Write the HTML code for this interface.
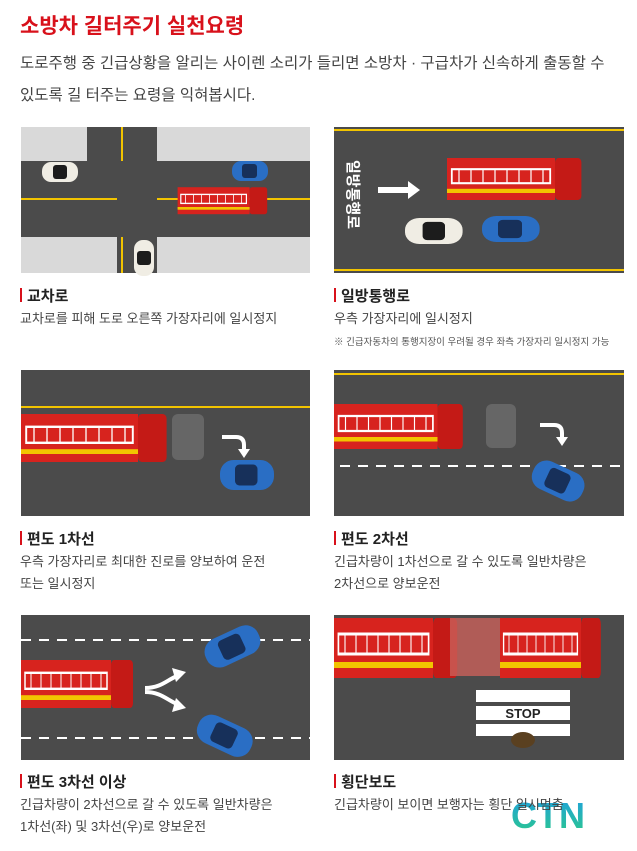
<!DOCTYPE html><html><head><meta charset="utf-8"><style>
body{margin:0;width:637px;height:851px;background:#fff;position:relative;overflow:hidden;font-family:"Liberation Sans","Noto Sans CJK KR",sans-serif;color:#333}
.a{position:absolute;white-space:nowrap}
.h{font-size:15px;font-weight:bold;color:#222}
.h:before{content:"";display:inline-block;width:2px;height:14px;background:#d8111b;margin-right:5px;vertical-align:-1px}
.d{font-size:13px;color:#444;line-height:22px}
svg{position:absolute}
</style></head><body>
<div class="a" style="left:20px;top:10px;font-size:21px;font-weight:bold;color:#d8111b">소방차 길터주기 실천요령</div>
<div class="a" style="left:20px;top:48px;font-size:15.5px;line-height:32px;color:#444">도로주행 중 긴급상황을 알리는 사이렌 소리가 들리면 소방차 · 구급차가 신속하게 출동할 수<br>있도록 길 터주는 요령을 익혀봅시다.</div>
<svg width="637" height="851" viewBox="0 0 637 851">
<defs>
<g id="truck"><rect x="0" y="0" width="90" height="30" fill="#d7231e"/><rect x="4" y="8" width="82" height="10" fill="none" stroke="#fff" stroke-width="1.5"/><path d="M10 8v10M20 8v10M30 8v10M40 8v10M50 8v10M60 8v10M70 8v10M80 8v10" stroke="#fff"/><rect x="90" y="0" width="22" height="30" rx="3" fill="#c41a16"/><rect x="0" y="22" width="90" height="3" fill="#f2c400"/></g>
<g id="bcar"><rect x="0" y="0" width="36" height="20" rx="9" fill="#2a6ec4"/><rect x="10" y="3" width="15" height="14" rx="3" fill="#17305a"/></g>
<g id="wcar"><rect x="0" y="0" width="36" height="20" rx="9" fill="#f0ede4"/><rect x="11" y="3" width="14" height="14" rx="3" fill="#1c1c1c"/></g>
<g id="carr"><path d="M0 0h14q8 0 8 8v6" stroke="#fff" stroke-width="4" fill="none"/><path d="M16 12h12l-6 9z" fill="#fff"/></g>
</defs>
<rect x="21" y="127" width="289" height="146" fill="#4b4b4b"/>
<rect x="21" y="127" width="66" height="34" fill="#d9d9d9"/><rect x="157" y="127" width="153" height="34" fill="#d9d9d9"/>
<rect x="21" y="237" width="96" height="36" fill="#d9d9d9"/><rect x="157" y="237" width="153" height="36" fill="#d9d9d9"/>
<path d="M21 199H117M157 199H310M122 127V161M122 237V273" stroke="#f2c400" stroke-width="2"/>
<use href="#wcar" x="42" y="162"/><use href="#bcar" x="232" y="161"/>
<use href="#truck" x="178" y="188" transform="scale(.8 .9) translate(44 20)"/>
<use href="#wcar" transform="translate(134 240) rotate(90) translate(0 -20)"/>
<rect x="334" y="127" width="290" height="146" fill="#4b4b4b"/>
<path d="M334 130H624M334 270H624" stroke="#f2c400" stroke-width="2"/>
<text x="348" y="160" transform="rotate(90 348 160)" fill="#fff" font-size="15" font-weight="bold" font-family="Liberation Sans,Noto Sans CJK KR,sans-serif">일방통행로</text>
<path d="M378 190H410" stroke="#fff" stroke-width="6"/><path d="M408 181L420 190L408 199Z" fill="#fff"/>
<use href="#truck" transform="translate(447 158) scale(1.2 1.4)"/>
<use href="#wcar" transform="translate(405 218) scale(1.6 1.3)"/>
<use href="#bcar" transform="translate(482 216) scale(1.6 1.3)"/>
<rect x="21" y="370" width="289" height="146" fill="#4b4b4b"/>
<path d="M21 407H310" stroke="#f2c400" stroke-width="2"/>
<use href="#truck" transform="translate(21 414) scale(1.3 1.6)"/>
<rect x="172" y="414" width="32" height="46" rx="6" fill="#666"/>
<use href="#carr" x="222" y="437"/>
<use href="#bcar" transform="translate(220 460) scale(1.5 1.5)"/>
<rect x="334" y="370" width="290" height="146" fill="#4b4b4b"/>
<path d="M334 374H624" stroke="#f2c400" stroke-width="2"/>
<path d="M340 466H624" stroke="#fff" stroke-width="2" stroke-dasharray="10 8"/>
<use href="#truck" transform="translate(334 404) scale(1.15 1.5)"/>
<rect x="486" y="404" width="30" height="44" rx="6" fill="#666"/>
<use href="#carr" x="540" y="425"/>
<use href="#bcar" transform="translate(540 456) rotate(25) scale(1.5 1.5)"/>
<rect x="21" y="615" width="289" height="145" fill="#4b4b4b"/>
<path d="M21 640H310M21 738H310" stroke="#fff" stroke-width="2" stroke-dasharray="10 8"/>
<use href="#truck" transform="translate(21 660) scale(1 1.6)"/>
<path d="M145 688c16 0 22-8 32-12M145 692c16 0 22 8 32 12" stroke="#fff" stroke-width="4" fill="none"/>
<path d="M172 668l14 4-10 10z" fill="#fff"/><path d="M172 712l14-4-10-10z" fill="#fff"/>
<use href="#bcar" transform="translate(200 645) rotate(-25) scale(1.6 1.5)"/>
<use href="#bcar" transform="translate(205 710) rotate(25) scale(1.6 1.5)"/>
<rect x="334" y="615" width="290" height="145" fill="#4b4b4b"/>
<use href="#truck" transform="translate(334 618) scale(1.1 2)"/>
<rect x="450" y="618" width="60" height="58" fill="#c9605a" opacity=".8"/>
<use href="#truck" transform="translate(500 618) scale(.9 2)"/>
<rect x="476" y="690" width="94" height="12" fill="#fff"/><rect x="476" y="706" width="94" height="14" fill="#fff"/>
<text x="523" y="718" text-anchor="middle" font-size="13" font-weight="bold" fill="#222" font-family="Liberation Sans,sans-serif">STOP</text>
<rect x="476" y="724" width="94" height="12" fill="#fff"/>
<ellipse cx="523" cy="740" rx="12" ry="8" fill="#5a4020"/>
<defs><linearGradient id="g" x1="0" y1="0" x2="0" y2="1"><stop offset="0" stop-color="#1fa0e0"/><stop offset="1" stop-color="#2cc88a"/></linearGradient></defs>
<text x="548" y="828" text-anchor="middle" font-size="36" font-weight="bold" fill="url(#g)" font-family="Liberation Sans,sans-serif">CTN</text>
</svg>
<div class="a h" style="left:20px;top:285px">교차로</div>
<div class="a d" style="left:20px;top:308px">교차로를 피해 도로 오른쪽 가장자리에 일시정지</div>
<div class="a h" style="left:334px;top:285px">일방통행로</div>
<div class="a d" style="left:334px;top:308px">우측 가장자리에 일시정지</div>
<div class="a" style="left:334px;top:334px;font-size:9.5px;color:#555">※ 긴급자동차의 통행지장이 우려될 경우 좌측 가장자리 일시정지 가능</div>
<div class="a h" style="left:20px;top:528px">편도 1차선</div>
<div class="a d" style="left:20px;top:551px">우측 가장자리로 최대한 진로를 양보하여 운전<br>또는 일시정지</div>
<div class="a h" style="left:334px;top:528px">편도 2차선</div>
<div class="a d" style="left:334px;top:551px">긴급차량이 1차선으로 갈 수 있도록 일반차량은<br>2차선으로 양보운전</div>
<div class="a h" style="left:20px;top:771px">편도 3차선 이상</div>
<div class="a d" style="left:20px;top:794px">긴급차량이 2차선으로 갈 수 있도록 일반차량은<br>1차선(좌) 및 3차선(우)로 양보운전</div>
<div class="a h" style="left:334px;top:771px">횡단보도</div>
<div class="a d" style="left:334px;top:794px">긴급차량이 보이면 보행자는 횡단 일시멈춤</div>
</body></html>
